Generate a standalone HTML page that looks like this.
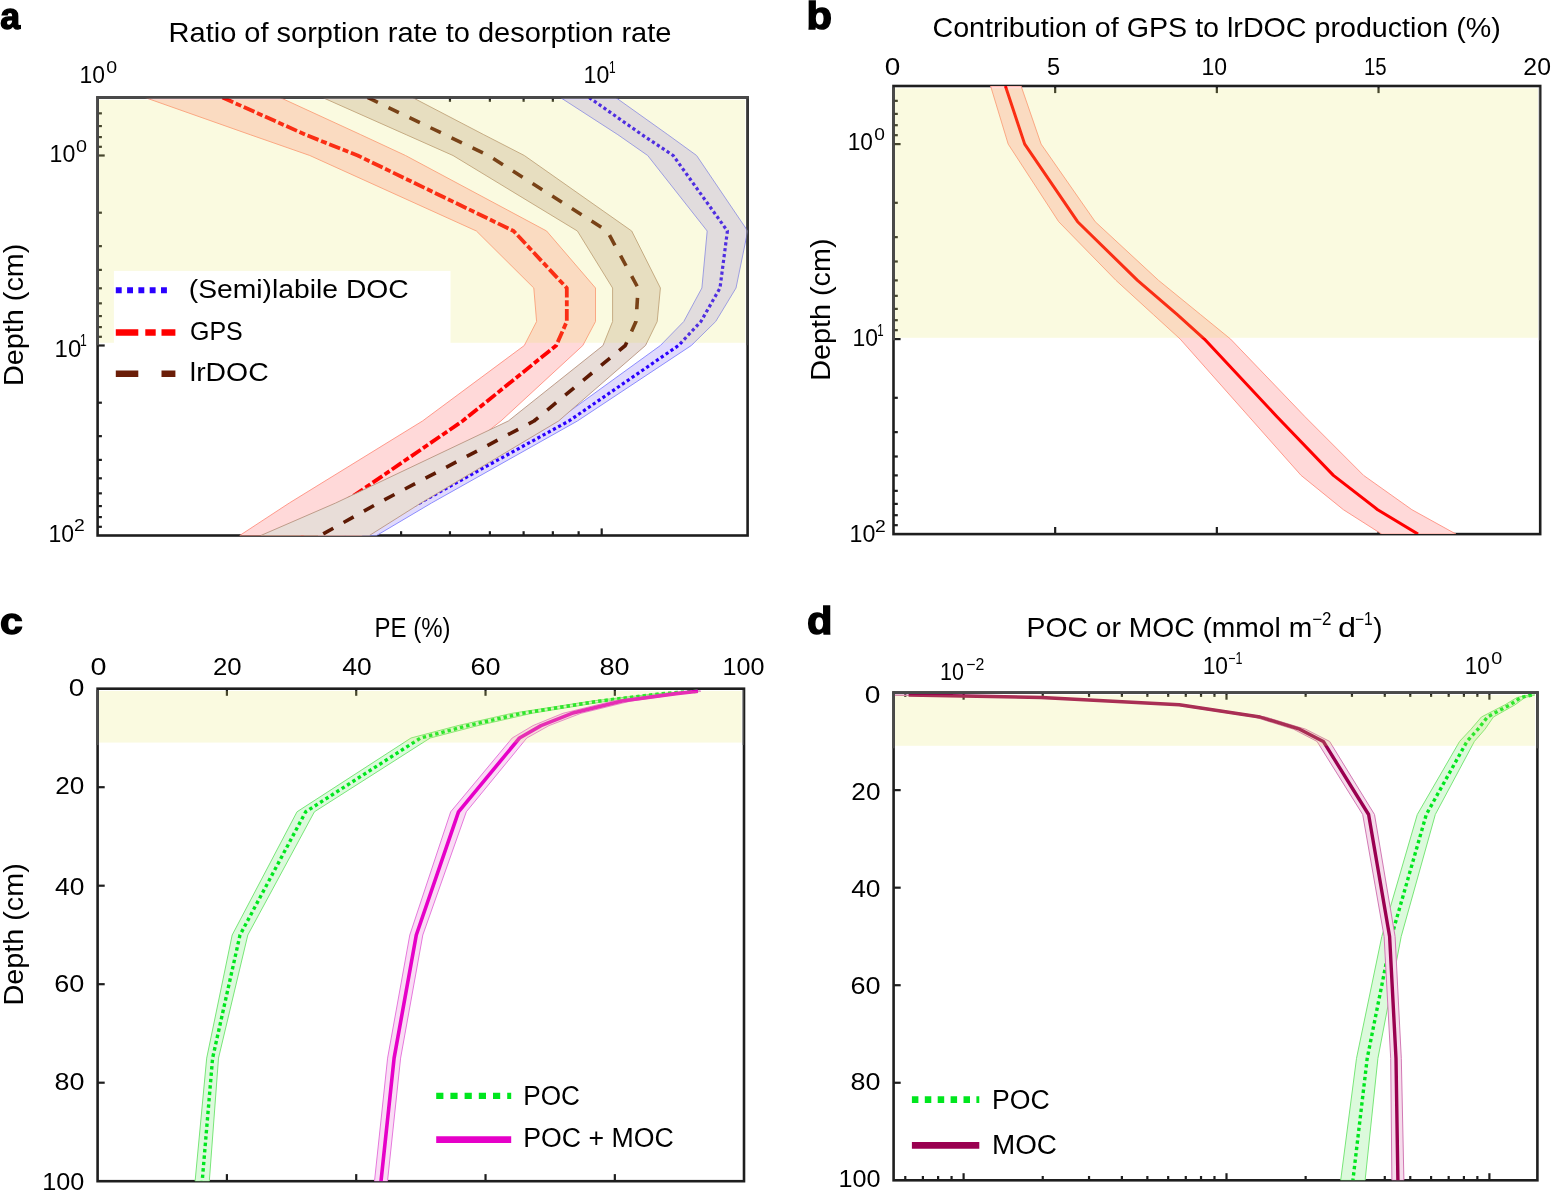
<!DOCTYPE html>
<html><head><meta charset="utf-8"><title>Figure</title>
<style>html,body{margin:0;padding:0;background:#fff;overflow:hidden}svg{display:block}</style>
</head><body>
<svg width="1551" height="1191" viewBox="0 0 1551 1191" font-family='"Liberation Sans", Arial, sans-serif'>
<defs>
<clipPath id="ca"><rect x="97.6" y="97.5" width="650.0" height="438.0"/></clipPath>
<clipPath id="cb"><rect x="893.5" y="86.0" width="646.7" height="448.1"/></clipPath>
<clipPath id="cc"><rect x="97.6" y="688.7" width="646.4" height="492.5"/></clipPath>
<clipPath id="cd"><rect x="893.6" y="692.6" width="643.8000000000001" height="487.69999999999993"/></clipPath>
</defs>
<rect width="1551" height="1191" fill="#fff"/>
<rect x="97.6" y="97.5" width="650.00" height="438.00" fill="none" stroke="#1e1e1e" stroke-width="2.6"/>
<line x1="249.35" y1="97.50" x2="249.35" y2="101.80" stroke="#1e1e1e" stroke-width="2.2" stroke-linecap="butt"/>
<line x1="338.12" y1="97.50" x2="338.12" y2="101.80" stroke="#1e1e1e" stroke-width="2.2" stroke-linecap="butt"/>
<line x1="401.10" y1="97.50" x2="401.10" y2="101.80" stroke="#1e1e1e" stroke-width="2.2" stroke-linecap="butt"/>
<line x1="449.95" y1="97.50" x2="449.95" y2="101.80" stroke="#1e1e1e" stroke-width="2.2" stroke-linecap="butt"/>
<line x1="489.87" y1="97.50" x2="489.87" y2="101.80" stroke="#1e1e1e" stroke-width="2.2" stroke-linecap="butt"/>
<line x1="523.61" y1="97.50" x2="523.61" y2="101.80" stroke="#1e1e1e" stroke-width="2.2" stroke-linecap="butt"/>
<line x1="552.85" y1="97.50" x2="552.85" y2="101.80" stroke="#1e1e1e" stroke-width="2.2" stroke-linecap="butt"/>
<line x1="578.63" y1="97.50" x2="578.63" y2="101.80" stroke="#1e1e1e" stroke-width="2.2" stroke-linecap="butt"/>
<line x1="601.70" y1="97.50" x2="601.70" y2="104.60" stroke="#1e1e1e" stroke-width="2.2" stroke-linecap="butt"/>
<line x1="249.35" y1="535.50" x2="249.35" y2="531.20" stroke="#1e1e1e" stroke-width="2.2" stroke-linecap="butt"/>
<line x1="338.12" y1="535.50" x2="338.12" y2="531.20" stroke="#1e1e1e" stroke-width="2.2" stroke-linecap="butt"/>
<line x1="401.10" y1="535.50" x2="401.10" y2="531.20" stroke="#1e1e1e" stroke-width="2.2" stroke-linecap="butt"/>
<line x1="449.95" y1="535.50" x2="449.95" y2="531.20" stroke="#1e1e1e" stroke-width="2.2" stroke-linecap="butt"/>
<line x1="489.87" y1="535.50" x2="489.87" y2="531.20" stroke="#1e1e1e" stroke-width="2.2" stroke-linecap="butt"/>
<line x1="523.61" y1="535.50" x2="523.61" y2="531.20" stroke="#1e1e1e" stroke-width="2.2" stroke-linecap="butt"/>
<line x1="552.85" y1="535.50" x2="552.85" y2="531.20" stroke="#1e1e1e" stroke-width="2.2" stroke-linecap="butt"/>
<line x1="578.63" y1="535.50" x2="578.63" y2="531.20" stroke="#1e1e1e" stroke-width="2.2" stroke-linecap="butt"/>
<line x1="601.70" y1="535.50" x2="601.70" y2="528.40" stroke="#1e1e1e" stroke-width="2.2" stroke-linecap="butt"/>
<line x1="97.60" y1="113.35" x2="101.90" y2="113.35" stroke="#1e1e1e" stroke-width="2.2" stroke-linecap="butt"/>
<line x1="97.60" y1="126.07" x2="101.90" y2="126.07" stroke="#1e1e1e" stroke-width="2.2" stroke-linecap="butt"/>
<line x1="97.60" y1="137.09" x2="101.90" y2="137.09" stroke="#1e1e1e" stroke-width="2.2" stroke-linecap="butt"/>
<line x1="97.60" y1="146.81" x2="101.90" y2="146.81" stroke="#1e1e1e" stroke-width="2.2" stroke-linecap="butt"/>
<line x1="97.60" y1="212.70" x2="101.90" y2="212.70" stroke="#1e1e1e" stroke-width="2.2" stroke-linecap="butt"/>
<line x1="97.60" y1="246.15" x2="101.90" y2="246.15" stroke="#1e1e1e" stroke-width="2.2" stroke-linecap="butt"/>
<line x1="97.60" y1="269.89" x2="101.90" y2="269.89" stroke="#1e1e1e" stroke-width="2.2" stroke-linecap="butt"/>
<line x1="97.60" y1="288.30" x2="101.90" y2="288.30" stroke="#1e1e1e" stroke-width="2.2" stroke-linecap="butt"/>
<line x1="97.60" y1="303.35" x2="101.90" y2="303.35" stroke="#1e1e1e" stroke-width="2.2" stroke-linecap="butt"/>
<line x1="97.60" y1="316.07" x2="101.90" y2="316.07" stroke="#1e1e1e" stroke-width="2.2" stroke-linecap="butt"/>
<line x1="97.60" y1="327.09" x2="101.90" y2="327.09" stroke="#1e1e1e" stroke-width="2.2" stroke-linecap="butt"/>
<line x1="97.60" y1="336.81" x2="101.90" y2="336.81" stroke="#1e1e1e" stroke-width="2.2" stroke-linecap="butt"/>
<line x1="97.60" y1="402.70" x2="101.90" y2="402.70" stroke="#1e1e1e" stroke-width="2.2" stroke-linecap="butt"/>
<line x1="97.60" y1="436.15" x2="101.90" y2="436.15" stroke="#1e1e1e" stroke-width="2.2" stroke-linecap="butt"/>
<line x1="97.60" y1="459.89" x2="101.90" y2="459.89" stroke="#1e1e1e" stroke-width="2.2" stroke-linecap="butt"/>
<line x1="97.60" y1="478.30" x2="101.90" y2="478.30" stroke="#1e1e1e" stroke-width="2.2" stroke-linecap="butt"/>
<line x1="97.60" y1="493.35" x2="101.90" y2="493.35" stroke="#1e1e1e" stroke-width="2.2" stroke-linecap="butt"/>
<line x1="97.60" y1="506.07" x2="101.90" y2="506.07" stroke="#1e1e1e" stroke-width="2.2" stroke-linecap="butt"/>
<line x1="97.60" y1="517.09" x2="101.90" y2="517.09" stroke="#1e1e1e" stroke-width="2.2" stroke-linecap="butt"/>
<line x1="97.60" y1="526.81" x2="101.90" y2="526.81" stroke="#1e1e1e" stroke-width="2.2" stroke-linecap="butt"/>
<line x1="97.60" y1="155.50" x2="104.70" y2="155.50" stroke="#1e1e1e" stroke-width="2.2" stroke-linecap="butt"/>
<line x1="97.60" y1="345.50" x2="104.70" y2="345.50" stroke="#1e1e1e" stroke-width="2.2" stroke-linecap="butt"/>
<rect x="893.5" y="86.0" width="646.70" height="448.10" fill="none" stroke="#1e1e1e" stroke-width="2.6"/>
<line x1="1055.17" y1="86.00" x2="1055.17" y2="93.10" stroke="#1e1e1e" stroke-width="2.2" stroke-linecap="butt"/>
<line x1="1216.85" y1="86.00" x2="1216.85" y2="93.10" stroke="#1e1e1e" stroke-width="2.2" stroke-linecap="butt"/>
<line x1="1378.53" y1="86.00" x2="1378.53" y2="93.10" stroke="#1e1e1e" stroke-width="2.2" stroke-linecap="butt"/>
<line x1="1055.17" y1="534.10" x2="1055.17" y2="527.00" stroke="#1e1e1e" stroke-width="2.2" stroke-linecap="butt"/>
<line x1="1216.85" y1="534.10" x2="1216.85" y2="527.00" stroke="#1e1e1e" stroke-width="2.2" stroke-linecap="butt"/>
<line x1="1378.53" y1="534.10" x2="1378.53" y2="527.00" stroke="#1e1e1e" stroke-width="2.2" stroke-linecap="butt"/>
<line x1="893.50" y1="100.84" x2="897.80" y2="100.84" stroke="#1e1e1e" stroke-width="2.2" stroke-linecap="butt"/>
<line x1="893.50" y1="113.89" x2="897.80" y2="113.89" stroke="#1e1e1e" stroke-width="2.2" stroke-linecap="butt"/>
<line x1="893.50" y1="125.20" x2="897.80" y2="125.20" stroke="#1e1e1e" stroke-width="2.2" stroke-linecap="butt"/>
<line x1="893.50" y1="135.18" x2="897.80" y2="135.18" stroke="#1e1e1e" stroke-width="2.2" stroke-linecap="butt"/>
<line x1="893.50" y1="202.80" x2="897.80" y2="202.80" stroke="#1e1e1e" stroke-width="2.2" stroke-linecap="butt"/>
<line x1="893.50" y1="237.14" x2="897.80" y2="237.14" stroke="#1e1e1e" stroke-width="2.2" stroke-linecap="butt"/>
<line x1="893.50" y1="261.50" x2="897.80" y2="261.50" stroke="#1e1e1e" stroke-width="2.2" stroke-linecap="butt"/>
<line x1="893.50" y1="280.40" x2="897.80" y2="280.40" stroke="#1e1e1e" stroke-width="2.2" stroke-linecap="butt"/>
<line x1="893.50" y1="295.84" x2="897.80" y2="295.84" stroke="#1e1e1e" stroke-width="2.2" stroke-linecap="butt"/>
<line x1="893.50" y1="308.89" x2="897.80" y2="308.89" stroke="#1e1e1e" stroke-width="2.2" stroke-linecap="butt"/>
<line x1="893.50" y1="320.20" x2="897.80" y2="320.20" stroke="#1e1e1e" stroke-width="2.2" stroke-linecap="butt"/>
<line x1="893.50" y1="330.18" x2="897.80" y2="330.18" stroke="#1e1e1e" stroke-width="2.2" stroke-linecap="butt"/>
<line x1="893.50" y1="397.80" x2="897.80" y2="397.80" stroke="#1e1e1e" stroke-width="2.2" stroke-linecap="butt"/>
<line x1="893.50" y1="432.14" x2="897.80" y2="432.14" stroke="#1e1e1e" stroke-width="2.2" stroke-linecap="butt"/>
<line x1="893.50" y1="456.50" x2="897.80" y2="456.50" stroke="#1e1e1e" stroke-width="2.2" stroke-linecap="butt"/>
<line x1="893.50" y1="475.40" x2="897.80" y2="475.40" stroke="#1e1e1e" stroke-width="2.2" stroke-linecap="butt"/>
<line x1="893.50" y1="490.84" x2="897.80" y2="490.84" stroke="#1e1e1e" stroke-width="2.2" stroke-linecap="butt"/>
<line x1="893.50" y1="503.89" x2="897.80" y2="503.89" stroke="#1e1e1e" stroke-width="2.2" stroke-linecap="butt"/>
<line x1="893.50" y1="515.20" x2="897.80" y2="515.20" stroke="#1e1e1e" stroke-width="2.2" stroke-linecap="butt"/>
<line x1="893.50" y1="525.18" x2="897.80" y2="525.18" stroke="#1e1e1e" stroke-width="2.2" stroke-linecap="butt"/>
<line x1="893.50" y1="144.10" x2="900.60" y2="144.10" stroke="#1e1e1e" stroke-width="2.2" stroke-linecap="butt"/>
<line x1="893.50" y1="339.10" x2="900.60" y2="339.10" stroke="#1e1e1e" stroke-width="2.2" stroke-linecap="butt"/>
<rect x="97.6" y="688.7" width="646.40" height="492.50" fill="none" stroke="#1e1e1e" stroke-width="2.6"/>
<line x1="226.91" y1="688.70" x2="226.91" y2="695.80" stroke="#1e1e1e" stroke-width="2.2" stroke-linecap="butt"/>
<line x1="356.22" y1="688.70" x2="356.22" y2="695.80" stroke="#1e1e1e" stroke-width="2.2" stroke-linecap="butt"/>
<line x1="485.53" y1="688.70" x2="485.53" y2="695.80" stroke="#1e1e1e" stroke-width="2.2" stroke-linecap="butt"/>
<line x1="614.84" y1="688.70" x2="614.84" y2="695.80" stroke="#1e1e1e" stroke-width="2.2" stroke-linecap="butt"/>
<line x1="226.91" y1="1181.20" x2="226.91" y2="1174.10" stroke="#1e1e1e" stroke-width="2.2" stroke-linecap="butt"/>
<line x1="356.22" y1="1181.20" x2="356.22" y2="1174.10" stroke="#1e1e1e" stroke-width="2.2" stroke-linecap="butt"/>
<line x1="485.53" y1="1181.20" x2="485.53" y2="1174.10" stroke="#1e1e1e" stroke-width="2.2" stroke-linecap="butt"/>
<line x1="614.84" y1="1181.20" x2="614.84" y2="1174.10" stroke="#1e1e1e" stroke-width="2.2" stroke-linecap="butt"/>
<line x1="97.60" y1="787.20" x2="104.70" y2="787.20" stroke="#1e1e1e" stroke-width="2.2" stroke-linecap="butt"/>
<line x1="97.60" y1="885.70" x2="104.70" y2="885.70" stroke="#1e1e1e" stroke-width="2.2" stroke-linecap="butt"/>
<line x1="97.60" y1="984.20" x2="104.70" y2="984.20" stroke="#1e1e1e" stroke-width="2.2" stroke-linecap="butt"/>
<line x1="97.60" y1="1082.70" x2="104.70" y2="1082.70" stroke="#1e1e1e" stroke-width="2.2" stroke-linecap="butt"/>
<rect x="893.6" y="692.6" width="643.80" height="487.70" fill="none" stroke="#1e1e1e" stroke-width="2.6"/>
<line x1="905.28" y1="692.60" x2="905.28" y2="696.90" stroke="#1e1e1e" stroke-width="2.2" stroke-linecap="butt"/>
<line x1="922.88" y1="692.60" x2="922.88" y2="696.90" stroke="#1e1e1e" stroke-width="2.2" stroke-linecap="butt"/>
<line x1="938.12" y1="692.60" x2="938.12" y2="696.90" stroke="#1e1e1e" stroke-width="2.2" stroke-linecap="butt"/>
<line x1="951.57" y1="692.60" x2="951.57" y2="696.90" stroke="#1e1e1e" stroke-width="2.2" stroke-linecap="butt"/>
<line x1="1042.74" y1="692.60" x2="1042.74" y2="696.90" stroke="#1e1e1e" stroke-width="2.2" stroke-linecap="butt"/>
<line x1="1089.04" y1="692.60" x2="1089.04" y2="696.90" stroke="#1e1e1e" stroke-width="2.2" stroke-linecap="butt"/>
<line x1="1121.88" y1="692.60" x2="1121.88" y2="696.90" stroke="#1e1e1e" stroke-width="2.2" stroke-linecap="butt"/>
<line x1="1147.36" y1="692.60" x2="1147.36" y2="696.90" stroke="#1e1e1e" stroke-width="2.2" stroke-linecap="butt"/>
<line x1="1168.18" y1="692.60" x2="1168.18" y2="696.90" stroke="#1e1e1e" stroke-width="2.2" stroke-linecap="butt"/>
<line x1="1185.78" y1="692.60" x2="1185.78" y2="696.90" stroke="#1e1e1e" stroke-width="2.2" stroke-linecap="butt"/>
<line x1="1201.02" y1="692.60" x2="1201.02" y2="696.90" stroke="#1e1e1e" stroke-width="2.2" stroke-linecap="butt"/>
<line x1="1214.47" y1="692.60" x2="1214.47" y2="696.90" stroke="#1e1e1e" stroke-width="2.2" stroke-linecap="butt"/>
<line x1="1305.64" y1="692.60" x2="1305.64" y2="696.90" stroke="#1e1e1e" stroke-width="2.2" stroke-linecap="butt"/>
<line x1="1351.94" y1="692.60" x2="1351.94" y2="696.90" stroke="#1e1e1e" stroke-width="2.2" stroke-linecap="butt"/>
<line x1="1384.78" y1="692.60" x2="1384.78" y2="696.90" stroke="#1e1e1e" stroke-width="2.2" stroke-linecap="butt"/>
<line x1="1410.26" y1="692.60" x2="1410.26" y2="696.90" stroke="#1e1e1e" stroke-width="2.2" stroke-linecap="butt"/>
<line x1="1431.08" y1="692.60" x2="1431.08" y2="696.90" stroke="#1e1e1e" stroke-width="2.2" stroke-linecap="butt"/>
<line x1="1448.68" y1="692.60" x2="1448.68" y2="696.90" stroke="#1e1e1e" stroke-width="2.2" stroke-linecap="butt"/>
<line x1="1463.92" y1="692.60" x2="1463.92" y2="696.90" stroke="#1e1e1e" stroke-width="2.2" stroke-linecap="butt"/>
<line x1="1477.37" y1="692.60" x2="1477.37" y2="696.90" stroke="#1e1e1e" stroke-width="2.2" stroke-linecap="butt"/>
<line x1="963.60" y1="692.60" x2="963.60" y2="699.70" stroke="#1e1e1e" stroke-width="2.2" stroke-linecap="butt"/>
<line x1="1226.50" y1="692.60" x2="1226.50" y2="699.70" stroke="#1e1e1e" stroke-width="2.2" stroke-linecap="butt"/>
<line x1="1489.40" y1="692.60" x2="1489.40" y2="699.70" stroke="#1e1e1e" stroke-width="2.2" stroke-linecap="butt"/>
<line x1="905.28" y1="1180.30" x2="905.28" y2="1176.00" stroke="#1e1e1e" stroke-width="2.2" stroke-linecap="butt"/>
<line x1="922.88" y1="1180.30" x2="922.88" y2="1176.00" stroke="#1e1e1e" stroke-width="2.2" stroke-linecap="butt"/>
<line x1="938.12" y1="1180.30" x2="938.12" y2="1176.00" stroke="#1e1e1e" stroke-width="2.2" stroke-linecap="butt"/>
<line x1="951.57" y1="1180.30" x2="951.57" y2="1176.00" stroke="#1e1e1e" stroke-width="2.2" stroke-linecap="butt"/>
<line x1="1042.74" y1="1180.30" x2="1042.74" y2="1176.00" stroke="#1e1e1e" stroke-width="2.2" stroke-linecap="butt"/>
<line x1="1089.04" y1="1180.30" x2="1089.04" y2="1176.00" stroke="#1e1e1e" stroke-width="2.2" stroke-linecap="butt"/>
<line x1="1121.88" y1="1180.30" x2="1121.88" y2="1176.00" stroke="#1e1e1e" stroke-width="2.2" stroke-linecap="butt"/>
<line x1="1147.36" y1="1180.30" x2="1147.36" y2="1176.00" stroke="#1e1e1e" stroke-width="2.2" stroke-linecap="butt"/>
<line x1="1168.18" y1="1180.30" x2="1168.18" y2="1176.00" stroke="#1e1e1e" stroke-width="2.2" stroke-linecap="butt"/>
<line x1="1185.78" y1="1180.30" x2="1185.78" y2="1176.00" stroke="#1e1e1e" stroke-width="2.2" stroke-linecap="butt"/>
<line x1="1201.02" y1="1180.30" x2="1201.02" y2="1176.00" stroke="#1e1e1e" stroke-width="2.2" stroke-linecap="butt"/>
<line x1="1214.47" y1="1180.30" x2="1214.47" y2="1176.00" stroke="#1e1e1e" stroke-width="2.2" stroke-linecap="butt"/>
<line x1="1305.64" y1="1180.30" x2="1305.64" y2="1176.00" stroke="#1e1e1e" stroke-width="2.2" stroke-linecap="butt"/>
<line x1="1351.94" y1="1180.30" x2="1351.94" y2="1176.00" stroke="#1e1e1e" stroke-width="2.2" stroke-linecap="butt"/>
<line x1="1384.78" y1="1180.30" x2="1384.78" y2="1176.00" stroke="#1e1e1e" stroke-width="2.2" stroke-linecap="butt"/>
<line x1="1410.26" y1="1180.30" x2="1410.26" y2="1176.00" stroke="#1e1e1e" stroke-width="2.2" stroke-linecap="butt"/>
<line x1="1431.08" y1="1180.30" x2="1431.08" y2="1176.00" stroke="#1e1e1e" stroke-width="2.2" stroke-linecap="butt"/>
<line x1="1448.68" y1="1180.30" x2="1448.68" y2="1176.00" stroke="#1e1e1e" stroke-width="2.2" stroke-linecap="butt"/>
<line x1="1463.92" y1="1180.30" x2="1463.92" y2="1176.00" stroke="#1e1e1e" stroke-width="2.2" stroke-linecap="butt"/>
<line x1="1477.37" y1="1180.30" x2="1477.37" y2="1176.00" stroke="#1e1e1e" stroke-width="2.2" stroke-linecap="butt"/>
<line x1="963.60" y1="1180.30" x2="963.60" y2="1173.20" stroke="#1e1e1e" stroke-width="2.2" stroke-linecap="butt"/>
<line x1="1226.50" y1="1180.30" x2="1226.50" y2="1173.20" stroke="#1e1e1e" stroke-width="2.2" stroke-linecap="butt"/>
<line x1="1489.40" y1="1180.30" x2="1489.40" y2="1173.20" stroke="#1e1e1e" stroke-width="2.2" stroke-linecap="butt"/>
<line x1="893.60" y1="790.14" x2="900.70" y2="790.14" stroke="#1e1e1e" stroke-width="2.2" stroke-linecap="butt"/>
<line x1="893.60" y1="887.68" x2="900.70" y2="887.68" stroke="#1e1e1e" stroke-width="2.2" stroke-linecap="butt"/>
<line x1="893.60" y1="985.22" x2="900.70" y2="985.22" stroke="#1e1e1e" stroke-width="2.2" stroke-linecap="butt"/>
<line x1="893.60" y1="1082.76" x2="900.70" y2="1082.76" stroke="#1e1e1e" stroke-width="2.2" stroke-linecap="butt"/>
<g clip-path="url(#ca)">
<polygon points="560.4,97.5 617.9,134.7 647.7,155.5 707.2,231.0 701.9,288.0 683.8,321.5 660.4,345.5 556.2,421.0 405.0,503.0 318.0,535.5 376.6,535.5 431.5,503.0 577.4,421.0 691.3,345.5 715.7,321.5 736.0,288.0 747.7,231.0 696.6,155.5 667.9,134.7 615.7,97.5" fill="#e0dafc" stroke="#8c8cff" stroke-width="1.0"/>
<polyline points="589.1,97.5 642.0,134.7 673.2,155.5 727.4,231.0 720.0,288.0 700.9,321.5 678.5,345.5 568.9,421.0 419.5,503.0 344.8,535.5" fill="none" stroke="#2a00ff" stroke-width="3.2" stroke-dasharray="3.2 2.7" stroke-linecap="butt" stroke-linejoin="round"/>
<polygon points="144.9,97.5 250.2,134.7 309.8,155.5 476.4,231.0 533.8,288.0 536.6,321.5 524.3,345.5 422.5,421.0 289.3,503.0 239.7,535.5 361.7,535.5 396.7,503.0 500.9,421.0 582.8,345.5 595.5,321.5 595.5,288.0 546.6,231.0 405.5,155.5 360.8,134.7 280.0,97.5" fill="#ffd9d9" stroke="#ff9080" stroke-width="0.9"/>
<polyline points="222.5,97.5 305.5,134.7 357.7,155.5 513.6,231.0 566.8,288.0 566.8,321.5 556.2,345.5 462.6,421.0 343.0,503.0 300.7,535.5" fill="none" stroke="#ff0000" stroke-width="3.8" stroke-dasharray="11.7 2.8 6 2.8" stroke-linecap="butt" stroke-linejoin="round"/>
<polygon points="322.5,97.5 406.2,134.7 453.0,155.5 577.4,231.0 612.6,288.0 612.6,321.5 603.0,345.5 508.3,421.0 335.7,503.0 260.8,535.5 369.4,535.5 421.0,503.0 558.6,421.0 645.5,345.5 657.2,321.5 660.4,288.0 631.7,231.0 524.3,155.5 483.8,134.7 412.5,97.5" fill="#e8ddd8" stroke="#b89480" stroke-width="0.9"/>
<polyline points="367.5,97.5 445.0,134.7 488.6,155.5 607.2,231.0 638.1,288.0 636.0,321.5 625.3,345.5 534.0,421.0 378.4,503.0 320.3,535.5" fill="none" stroke="#5e1a04" stroke-width="3.6" stroke-dasharray="11.5 11.8" stroke-linecap="butt" stroke-linejoin="round"/>
</g>
<rect x="98.90" y="99.80" width="646.40" height="243.00" fill="rgba(230,230,100,0.2)"/>
<line x1="96.30" y1="97.50" x2="748.90" y2="97.50" stroke="#4a4a4a" stroke-width="2.6" stroke-linecap="butt"/>
<line x1="97.60" y1="96.20" x2="97.60" y2="345.30" stroke="#4a4a4a" stroke-width="2.6" stroke-linecap="butt"/>
<line x1="746.95" y1="98.80" x2="746.95" y2="345.30" stroke="#4a4a4a" stroke-width="1.3" stroke-linecap="butt"/>
<g clip-path="url(#cb)">
<polygon points="990.6,86.0 1008.2,144.1 1058.7,221.7 1116.0,280.4 1153.5,314.7 1180.2,339.1 1249.0,416.7 1301.1,475.4 1343.4,509.7 1381.7,534.1 1456.0,534.1 1411.9,509.7 1363.6,475.4 1305.0,416.7 1230.6,339.1 1200.7,314.7 1158.6,280.4 1095.2,221.7 1041.1,144.1 1021.1,86.0" fill="#ffd9d9" stroke="#ff9080" stroke-width="0.9"/>
<polyline points="1005.4,86.0 1024.7,144.1 1077.6,221.7 1137.5,280.4 1177.3,314.7 1204.4,339.1 1277.0,416.7 1333.4,475.4 1377.7,509.7 1418.0,534.1" fill="none" stroke="#ff0000" stroke-width="3.0" stroke-linecap="butt" stroke-linejoin="round"/>
</g>
<rect x="894.80" y="88.30" width="643.10" height="249.50" fill="rgba(230,230,100,0.2)"/>
<line x1="893.50" y1="87.30" x2="893.50" y2="340.30" stroke="#4a4a4a" stroke-width="2.6" stroke-linecap="butt"/>
<line x1="1539.55" y1="87.30" x2="1539.55" y2="340.30" stroke="#4a4a4a" stroke-width="1.3" stroke-linecap="butt"/>
<g clip-path="url(#cc)">
<polygon points="694.0,691.2 657.0,693.6 592.0,701.0 512.0,713.3 458.0,725.6 411.0,738.0 297.0,811.8 232.2,935.0 206.7,1058.1 195.1,1181.2 209.3,1181.2 218.5,1058.1 247.8,935.0 314.4,811.8 430.2,738.0 478.0,725.6 532.0,713.3 608.0,701.0 667.0,693.6 700.0,691.2" fill="#dcfadc" stroke="#78e678" stroke-width="1.0"/>
<polyline points="697.0,691.2 662.0,693.6 600.0,701.0 522.0,713.3 468.0,725.6 420.6,738.0 305.7,811.8 240.0,935.0 212.6,1058.1 202.2,1181.2" fill="none" stroke="#00e61e" stroke-width="3.4" stroke-dasharray="3.4 3.0" stroke-linecap="butt" stroke-linejoin="round"/>
<polygon points="695.0,691.2 670.0,693.6 613.0,701.0 563.0,713.3 533.0,725.6 512.2,738.0 450.7,811.8 409.8,935.0 387.6,1058.1 374.5,1181.2 387.5,1181.2 400.6,1058.1 422.8,935.0 466.3,811.8 526.8,738.0 549.0,725.6 581.0,713.3 631.0,701.0 682.0,693.6 701.0,691.2" fill="#fadcf5" stroke="#e678dc" stroke-width="1.0"/>
<polyline points="698.0,691.2 676.0,693.6 622.0,701.0 572.0,713.3 541.0,725.6 519.5,738.0 458.5,811.8 416.3,935.0 394.1,1058.1 381.0,1181.2" fill="none" stroke="#e600c8" stroke-width="3.6" stroke-linecap="butt" stroke-linejoin="round"/>
</g>
<rect x="98.90" y="691.00" width="642.80" height="51.60" fill="rgba(230,230,100,0.2)"/>
<line x1="97.60" y1="690.00" x2="97.60" y2="745.10" stroke="#4a4a4a" stroke-width="2.6" stroke-linecap="butt"/>
<line x1="743.35" y1="690.00" x2="743.35" y2="745.10" stroke="#4a4a4a" stroke-width="1.3" stroke-linecap="butt"/>
<g clip-path="url(#cd)">
<polygon points="1528.8,695.0 1517.0,697.5 1505.0,704.8 1481.4,717.0 1471.0,729.2 1459.6,741.4 1417.3,814.5 1381.8,936.5 1356.5,1058.4 1340.7,1180.3 1365.1,1180.3 1377.9,1058.4 1401.2,936.5 1435.3,814.5 1474.4,741.4 1485.0,729.2 1493.4,717.0 1515.0,704.8 1525.0,697.5 1534.8,695.0" fill="#dcfadc" stroke="#78e678" stroke-width="1.0"/>
<polyline points="1531.8,695.0 1521.0,697.5 1510.0,704.8 1487.4,717.0 1478.0,729.2 1467.0,741.4 1426.3,814.5 1391.5,936.5 1367.2,1058.4 1352.9,1180.3" fill="none" stroke="#00e61e" stroke-width="3.4" stroke-dasharray="3.4 3.0" stroke-linecap="butt" stroke-linejoin="round"/>
<polygon points="870.0,695.0 1036.2,697.5 1174.3,704.8 1254.5,717.0 1293.6,729.2 1317.0,741.4 1362.7,814.5 1384.1,936.5 1390.7,1058.4 1391.9,1180.3 1403.9,1180.3 1401.3,1058.4 1395.1,936.5 1374.5,814.5 1329.6,741.4 1305.6,729.2 1265.5,717.0 1184.3,704.8 1046.2,697.5 912.6,695.0" fill="#f5dceb" stroke="#d278b4" stroke-width="1.0"/>
<polyline points="908.6,695.0 1041.2,697.5 1179.3,704.8 1260.0,717.0 1299.6,729.2 1323.3,741.4 1368.6,814.5 1389.6,936.5 1396.0,1058.4 1397.9,1180.3" fill="none" stroke="#9a0050" stroke-width="3.4" stroke-linecap="butt" stroke-linejoin="round"/>
</g>
<rect x="894.90" y="694.90" width="640.20" height="50.90" fill="rgba(230,230,100,0.2)"/>
<line x1="892.30" y1="692.60" x2="1538.70" y2="692.60" stroke="#4a4a4a" stroke-width="2.6" stroke-linecap="butt"/>
<line x1="893.60" y1="691.30" x2="893.60" y2="748.30" stroke="#4a4a4a" stroke-width="2.6" stroke-linecap="butt"/>
<line x1="1537.40" y1="691.30" x2="1537.40" y2="748.30" stroke="#4a4a4a" stroke-width="2.6" stroke-linecap="butt"/>
<rect x="113.9" y="270.9" width="336.6" height="125" fill="#fff"/>
<line x1="115.8" y1="290.2" x2="172" y2="290.2" stroke="#2a00ff" stroke-width="6.0" stroke-dasharray="5.9 5.4"/>
<line x1="115.8" y1="332.4" x2="175.4" y2="332.4" stroke="#ff0000" stroke-width="6.5" stroke-dasharray="22.5 7 10.4 5.8 14"/>
<line x1="115.8" y1="373.7" x2="175.4" y2="373.7" stroke="#6b1e08" stroke-width="6.5" stroke-dasharray="22.5 23.2 14"/>
<text x="188.80" y="298.30" font-size="26.00" textLength="219.92" lengthAdjust="spacingAndGlyphs" fill="#000">(Semi)labile DOC</text>
<text x="189.95" y="339.60" font-size="26.50" textLength="52.82" lengthAdjust="spacingAndGlyphs" fill="#000">GPS</text>
<text x="189.86" y="381.40" font-size="26.00" textLength="78.81" lengthAdjust="spacingAndGlyphs" fill="#000">lrDOC</text>
<line x1="436.2" y1="1095.9" x2="511.2" y2="1095.9" stroke="#00e61e" stroke-width="6.2" stroke-dasharray="7.2 7"/>
<line x1="436.2" y1="1139.7" x2="511.2" y2="1139.7" stroke="#e600c8" stroke-width="6.8"/>
<text x="523.21" y="1104.80" font-size="27.00" textLength="56.66" lengthAdjust="spacingAndGlyphs" fill="#000">POC</text>
<text x="523.16" y="1147.10" font-size="27.00" textLength="150.56" lengthAdjust="spacingAndGlyphs" fill="#000">POC + MOC</text>
<line x1="911.9" y1="1099.6" x2="979.3" y2="1099.6" stroke="#00e61e" stroke-width="6.6" stroke-dasharray="6.5 6.4"/>
<line x1="911.9" y1="1145.4" x2="979.3" y2="1145.4" stroke="#9a0050" stroke-width="6.6"/>
<text x="992.07" y="1108.60" font-size="27.00" textLength="57.72" lengthAdjust="spacingAndGlyphs" fill="#000">POC</text>
<text x="991.97" y="1154.00" font-size="27.00" textLength="64.99" lengthAdjust="spacingAndGlyphs" fill="#000">MOC</text>
<text x="0.23" y="28.90" font-size="37.00" font-weight="bold" textLength="19.86" lengthAdjust="spacingAndGlyphs" fill="#000" stroke="#000" stroke-width="1.4">a</text>
<text x="806.58" y="28.70" font-size="38.00" font-weight="bold" textLength="25.52" lengthAdjust="spacingAndGlyphs" fill="#000" stroke="#000" stroke-width="1.4">b</text>
<text x="0.07" y="634.00" font-size="37.00" font-weight="bold" textLength="22.71" lengthAdjust="spacingAndGlyphs" fill="#000" stroke="#000" stroke-width="1.4">c</text>
<text x="806.94" y="633.70" font-size="38.00" font-weight="bold" textLength="25.40" lengthAdjust="spacingAndGlyphs" fill="#000" stroke="#000" stroke-width="1.4">d</text>
<text x="168.58" y="41.70" font-size="27.50" textLength="502.83" lengthAdjust="spacingAndGlyphs" fill="#000">Ratio of sorption rate to desorption rate</text>
<text x="932.47" y="36.80" font-size="27.50" textLength="568.30" lengthAdjust="spacingAndGlyphs" fill="#000">Contribution of GPS to lrDOC production (%)</text>
<text x="374.48" y="636.60" font-size="27.00" textLength="76.01" lengthAdjust="spacingAndGlyphs" fill="#000">PE (%)</text>
<text x="1026.64" y="637.20" font-size="27.50" textLength="285.59" lengthAdjust="spacingAndGlyphs" fill="#000">POC or MOC (mmol m</text>
<text x="1312.15" y="625.00" font-size="17.50" textLength="19.29" lengthAdjust="spacingAndGlyphs" fill="#000">−2</text>
<text x="1338.10" y="637.20" font-size="27.50" textLength="18.04" lengthAdjust="spacingAndGlyphs" fill="#000">d</text>
<text x="1354.92" y="625.00" font-size="17.50" textLength="17.78" lengthAdjust="spacingAndGlyphs" fill="#000">−1</text>
<text x="1373.36" y="637.20" font-size="27.50" textLength="9.30" lengthAdjust="spacingAndGlyphs" fill="#000">)</text>
<text x="0" y="0" transform="translate(22.80,386.11) rotate(-90)" font-size="27.00" textLength="142.59" lengthAdjust="spacingAndGlyphs" fill="#000">Depth (cm)</text>
<text x="0" y="0" transform="translate(830.20,380.80) rotate(-90)" font-size="27.00" textLength="142.29" lengthAdjust="spacingAndGlyphs" fill="#000">Depth (cm)</text>
<text x="0" y="0" transform="translate(23.40,1005.50) rotate(-90)" font-size="27.00" textLength="142.29" lengthAdjust="spacingAndGlyphs" fill="#000">Depth (cm)</text>
<text x="79.58" y="82.90" font-size="23.00" textLength="25.47" lengthAdjust="spacingAndGlyphs" fill="#000">10</text>
<text x="106.22" y="72.90" font-size="16.50" textLength="10.89" lengthAdjust="spacingAndGlyphs" fill="#000">0</text>
<text x="583.57" y="82.70" font-size="23.00" textLength="25.70" lengthAdjust="spacingAndGlyphs" fill="#000">10</text>
<text x="609.00" y="72.80" font-size="16.50" textLength="6.65" lengthAdjust="spacingAndGlyphs" fill="#000">1</text>
<text x="49.57" y="161.90" font-size="23.00" textLength="25.70" lengthAdjust="spacingAndGlyphs" fill="#000">10</text>
<text x="76.11" y="151.80" font-size="16.50" textLength="11.01" lengthAdjust="spacingAndGlyphs" fill="#000">0</text>
<text x="54.61" y="356.90" font-size="23.00" textLength="26.59" lengthAdjust="spacingAndGlyphs" fill="#000">10</text>
<text x="79.99" y="345.80" font-size="16.50" textLength="6.78" lengthAdjust="spacingAndGlyphs" fill="#000">1</text>
<text x="48.57" y="541.90" font-size="23.00" textLength="25.58" lengthAdjust="spacingAndGlyphs" fill="#000">10</text>
<text x="74.03" y="531.30" font-size="16.50" textLength="10.76" lengthAdjust="spacingAndGlyphs" fill="#000">2</text>
<text x="847.70" y="149.80" font-size="23.00" textLength="25.25" lengthAdjust="spacingAndGlyphs" fill="#000">10</text>
<text x="874.33" y="139.70" font-size="16.50" textLength="10.66" lengthAdjust="spacingAndGlyphs" fill="#000">0</text>
<text x="852.58" y="345.90" font-size="23.00" textLength="25.47" lengthAdjust="spacingAndGlyphs" fill="#000">10</text>
<text x="877.14" y="335.80" font-size="16.50" textLength="6.39" lengthAdjust="spacingAndGlyphs" fill="#000">1</text>
<text x="849.56" y="541.90" font-size="23.00" textLength="25.81" lengthAdjust="spacingAndGlyphs" fill="#000">10</text>
<text x="875.03" y="531.80" font-size="16.50" textLength="10.76" lengthAdjust="spacingAndGlyphs" fill="#000">2</text>
<text x="884.88" y="74.80" font-size="23.00" textLength="15.53" lengthAdjust="spacingAndGlyphs" fill="#000">0</text>
<text x="1046.96" y="74.80" font-size="23.00" textLength="13.11" lengthAdjust="spacingAndGlyphs" fill="#000">5</text>
<text x="1201.58" y="74.80" font-size="23.00" textLength="25.58" lengthAdjust="spacingAndGlyphs" fill="#000">10</text>
<text x="1363.97" y="74.80" font-size="23.00" textLength="22.69" lengthAdjust="spacingAndGlyphs" fill="#000">15</text>
<text x="1523.36" y="74.80" font-size="23.00" textLength="27.56" lengthAdjust="spacingAndGlyphs" fill="#000">20</text>
<text x="90.55" y="675.30" font-size="23.00" textLength="15.99" lengthAdjust="spacingAndGlyphs" fill="#000">0</text>
<text x="213.01" y="675.30" font-size="23.00" textLength="28.65" lengthAdjust="spacingAndGlyphs" fill="#000">20</text>
<text x="342.37" y="675.30" font-size="23.00" textLength="29.31" lengthAdjust="spacingAndGlyphs" fill="#000">40</text>
<text x="470.45" y="675.30" font-size="23.00" textLength="30.06" lengthAdjust="spacingAndGlyphs" fill="#000">60</text>
<text x="599.59" y="675.30" font-size="23.00" textLength="30.02" lengthAdjust="spacingAndGlyphs" fill="#000">80</text>
<text x="722.61" y="675.30" font-size="23.00" textLength="41.95" lengthAdjust="spacingAndGlyphs" fill="#000">100</text>
<text x="68.78" y="695.60" font-size="23.00" textLength="15.64" lengthAdjust="spacingAndGlyphs" fill="#000">0</text>
<text x="55.29" y="794.10" font-size="23.00" textLength="29.08" lengthAdjust="spacingAndGlyphs" fill="#000">20</text>
<text x="55.07" y="895.00" font-size="23.00" textLength="29.31" lengthAdjust="spacingAndGlyphs" fill="#000">40</text>
<text x="54.35" y="991.80" font-size="23.00" textLength="30.06" lengthAdjust="spacingAndGlyphs" fill="#000">60</text>
<text x="54.49" y="1090.30" font-size="23.00" textLength="29.91" lengthAdjust="spacingAndGlyphs" fill="#000">80</text>
<text x="42.31" y="1189.60" font-size="23.00" textLength="42.06" lengthAdjust="spacingAndGlyphs" fill="#000">100</text>
<text x="864.88" y="703.10" font-size="23.00" textLength="15.64" lengthAdjust="spacingAndGlyphs" fill="#000">0</text>
<text x="851.39" y="800.10" font-size="23.00" textLength="29.08" lengthAdjust="spacingAndGlyphs" fill="#000">20</text>
<text x="851.17" y="897.00" font-size="23.00" textLength="29.31" lengthAdjust="spacingAndGlyphs" fill="#000">40</text>
<text x="850.45" y="993.50" font-size="23.00" textLength="30.06" lengthAdjust="spacingAndGlyphs" fill="#000">60</text>
<text x="850.59" y="1090.20" font-size="23.00" textLength="29.91" lengthAdjust="spacingAndGlyphs" fill="#000">80</text>
<text x="838.41" y="1187.30" font-size="23.00" textLength="42.06" lengthAdjust="spacingAndGlyphs" fill="#000">100</text>
<text x="939.99" y="679.90" font-size="23.00" textLength="23.92" lengthAdjust="spacingAndGlyphs" fill="#000">10</text>
<text x="966.31" y="669.90" font-size="16.50" textLength="18.09" lengthAdjust="spacingAndGlyphs" fill="#000">−2</text>
<text x="1202.69" y="673.70" font-size="23.00" textLength="25.36" lengthAdjust="spacingAndGlyphs" fill="#000">10</text>
<text x="1228.17" y="663.70" font-size="16.50" textLength="14.29" lengthAdjust="spacingAndGlyphs" fill="#000">−1</text>
<text x="1464.81" y="674.10" font-size="23.00" textLength="25.03" lengthAdjust="spacingAndGlyphs" fill="#000">10</text>
<text x="1491.31" y="663.70" font-size="16.50" textLength="11.01" lengthAdjust="spacingAndGlyphs" fill="#000">0</text>
</svg>
</body></html>
